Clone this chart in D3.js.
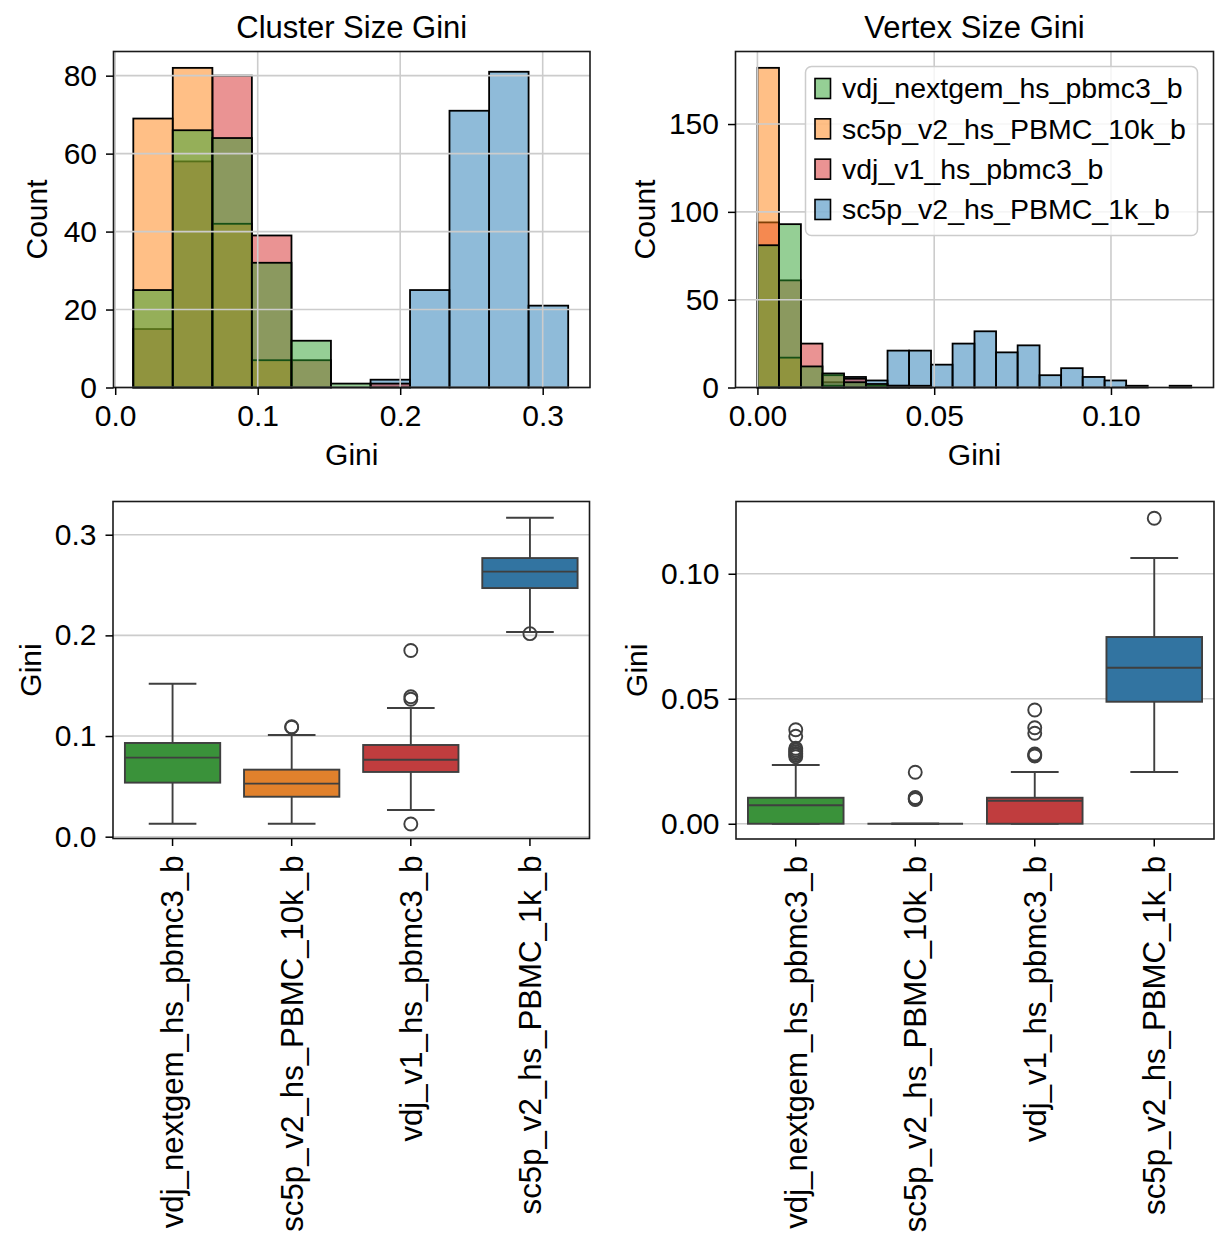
<!DOCTYPE html>
<html>
<head>
<meta charset="utf-8">
<script src="https://cdn.jsdelivr.net/npm/d3@7"></script>
<style>
  body { margin: 0; background: #fff; }
  svg { display: block; font-family: "Liberation Sans", Arial, sans-serif; }
</style>
</head>
<body>
<svg id="chart"></svg>
<script>
// samples, in hue order
const samples = ["vdj_nextgem_hs_pbmc3_b", "sc5p_v2_hs_PBMC_10k_b", "vdj_v1_hs_pbmc3_b", "sc5p_v2_hs_PBMC_1k_b"];
const histColors = ["#2ca02c", "#ff7f0e", "#d62728", "#1f77b4"];
const boxColors = ["#3a923a", "#e1812c", "#c03d3e", "#3274a1"];

// cluster size gini histogram (11 shared bins)
const clusterEdges = [0.0127, 0.0404, 0.0682, 0.0959, 0.1237, 0.1514, 0.1792, 0.2069, 0.2346, 0.2624, 0.2901, 0.3179];
const clusterNextgem = [25, 66, 64, 32, 12, 1, 0, 0, 0, 0, 0];
const cluster10k = [69, 82, 42, 7, 0, 0, 0, 0, 0, 0, 0];
const clusterV1 = [15, 58, 80, 39, 7, 0, 1, 0, 0, 0, 0];
const cluster1k = [0, 0, 0, 0, 0, 0, 2, 25, 71, 81, 21];

// vertex size gini histogram (20 shared bins)
const vertexEdges = [0, 0.0061, 0.0123, 0.0184, 0.0245, 0.0307, 0.0368, 0.0429, 0.0491, 0.0552, 0.0614,
  0.0675, 0.0736, 0.0798, 0.0859, 0.0920, 0.0982, 0.1043, 0.1104, 0.1166, 0.1227];
const vertexNextgem = [81, 93, 12, 8, 3, 2, 1, 0, 0, 0, 0, 0, 0, 0, 0, 0, 0, 0, 0, 0];
const vertex10k = [182, 17, 0, 1, 0, 0, 0, 0, 0, 0, 0, 0, 0, 0, 0, 0, 0, 0, 0, 0];
const vertexV1 = [94, 61, 25, 7, 5, 1, 1, 1, 0, 0, 0, 0, 0, 0, 0, 0, 0, 0, 0, 0];
const vertex1k = [0, 0, 0, 3, 6, 4, 21, 21, 13, 25, 32, 20, 24, 7, 11, 6, 4, 1, 0, 1];

// box plot stats, one value per sample
const clusterQ1 = [0.0537, 0.0397, 0.0643, 0.2470];
const clusterMedian = [0.0785, 0.0527, 0.0765, 0.2633];
const clusterQ3 = [0.0931, 0.0666, 0.0911, 0.2768];
const clusterLow = [0.0129, 0.0129, 0.0265, 0.2033];
const clusterHigh = [0.1520, 0.1010, 0.1278, 0.3169];
const clusterOutliers = [[], [0.1087, 0.1092], [0.1850, 0.1390, 0.1365, 0.0126], [0.2017]];

const vertexQ1 = [0, 0, 0, 0.0488];
const vertexMedian = [0.0074, 0, 0.0092, 0.0624];
const vertexQ3 = [0.0104, 0, 0.0104, 0.0747];
const vertexLow = [0, 0, 0, 0.0207];
const vertexHigh = [0.0235, 0, 0.0207, 0.1063];
const vertexOutliers = [
  [0.0376, 0.0350, 0.0302, 0.0295, 0.0288, 0.0281, 0.0275, 0.0268],
  [0.0206, 0.0105, 0.0102, 0.0099, 0.0097],
  [0.0455, 0.0384, 0.0362, 0.0279, 0.0275, 0.0271],
  [0.1222]
];

const width = 1228, height = 1245;
const tickFont = 30, catFont = 31.2, labelFont = 30, titleFont = 31, legendFont = 28.5;
const gridColor = "#cccccc", lineColor = "#3f3f3f";

const svg = d3.select("#chart").attr("width", width).attr("height", height);
svg.append("rect").attr("width", width).attr("height", height).attr("fill", "#fff");

function styleAxis(g) {
  g.select(".domain").remove();
  g.selectAll(".tick line").attr("stroke", "#000").attr("stroke-width", 1.5);
  g.selectAll(".tick text").attr("fill", "#000").style("font-size", tickFont + "px");
}

function frame(box) {
  svg.append("rect")
    .attr("x", box.left).attr("y", box.top)
    .attr("width", box.right - box.left).attr("height", box.bottom - box.top)
    .attr("fill", "none").attr("stroke", "#1a1a1a").attr("stroke-width", 1.6);
}

function histPanel(box, o) {
  const x = d3.scaleLinear(o.xDomain, [box.left, box.right]);
  const y = d3.scaleLinear(o.yDomain, [box.bottom, box.top]);
  const g = svg.append("g");

  // seaborn layers the last hue first
  d3.reverse(o.series.map((counts, i) => ({ counts, color: histColors[i] }))).forEach(s => {
    g.append("g").selectAll("rect")
      .data(s.counts.map((c, j) => ({ c, x0: o.edges[j], x1: o.edges[j + 1] })).filter(d => d.c > 0))
      .join("rect")
      .attr("x", d => x(d.x0))
      .attr("y", d => y(d.c))
      .attr("width", d => x(d.x1) - x(d.x0))
      .attr("height", d => y(0) - y(d.c))
      .attr("fill", s.color)
      .attr("fill-opacity", 0.5)
      .attr("stroke", "#000")
      .attr("stroke-width", 1.8);
  });

  // grid sits above the bars
  const grid = svg.append("g").attr("stroke", gridColor).attr("stroke-width", 1.6);
  grid.selectAll(".v").data(o.xTicks).join("line").attr("class", "v")
    .attr("x1", d => x(d)).attr("x2", d => x(d)).attr("y1", box.top).attr("y2", box.bottom);
  grid.selectAll(".h").data(o.yTicks).join("line").attr("class", "h")
    .attr("x1", box.left).attr("x2", box.right).attr("y1", d => y(d)).attr("y2", d => y(d));

  frame(box);

  svg.append("g")
    .attr("transform", `translate(0,${box.bottom})`)
    .call(d3.axisBottom(x).tickValues(o.xTicks).tickFormat(d3.format(o.xFmt)).tickSize(7.5).tickPadding(10))
    .call(styleAxis);

  svg.append("g")
    .attr("transform", `translate(${box.left},0)`)
    .call(d3.axisLeft(y).tickValues(o.yTicks).tickFormat(d3.format("d")).tickSize(7.5).tickPadding(9))
    .call(styleAxis);

  const cx = (box.left + box.right) / 2;
  svg.append("text").attr("x", cx).attr("y", 38).attr("text-anchor", "middle")
    .style("font-size", titleFont + "px").text(o.title);
  svg.append("text").attr("x", cx).attr("y", box.bottom + 77).attr("text-anchor", "middle")
    .style("font-size", labelFont + "px").text("Gini");
  svg.append("text")
    .attr("transform", `translate(${o.yLabelX},${(box.top + box.bottom) / 2}) rotate(-90)`)
    .attr("text-anchor", "middle")
    .style("font-size", labelFont + "px").text("Count");
}

function boxPanel(box, o) {
  const x = d3.scaleBand(samples, [box.left, box.right]);
  const y = d3.scaleLinear(o.yDomain, [box.bottom, box.top]);
  const bw = x.bandwidth() * 0.8, cw = x.bandwidth() * 0.4;

  svg.append("g").attr("stroke", gridColor).attr("stroke-width", 1.6)
    .selectAll("line").data(o.yTicks).join("line")
    .attr("x1", box.left).attr("x2", box.right).attr("y1", d => y(d)).attr("y2", d => y(d));

  const items = samples.map((s, i) => ({
    s, i, q1: o.q1[i], med: o.median[i], q3: o.q3[i], lo: o.low[i], hi: o.high[i], out: o.outliers[i]
  }));

  const g = svg.append("g").attr("stroke", lineColor).attr("stroke-width", 1.9);
  const b = g.selectAll("g").data(items).join("g")
    .attr("transform", d => `translate(${x(d.s) + x.bandwidth() / 2},0)`);

  b.append("line").attr("y1", d => y(d.q3)).attr("y2", d => y(d.hi));
  b.append("line").attr("y1", d => y(d.q1)).attr("y2", d => y(d.lo));
  b.append("line").attr("x1", -cw / 2).attr("x2", cw / 2).attr("y1", d => y(d.hi)).attr("y2", d => y(d.hi));
  b.append("line").attr("x1", -cw / 2).attr("x2", cw / 2).attr("y1", d => y(d.lo)).attr("y2", d => y(d.lo));
  b.append("rect")
    .attr("x", -bw / 2).attr("width", bw)
    .attr("y", d => y(d.q3)).attr("height", d => y(d.q1) - y(d.q3))
    .attr("fill", d => boxColors[d.i]);
  b.append("line").attr("x1", -bw / 2).attr("x2", bw / 2).attr("y1", d => y(d.med)).attr("y2", d => y(d.med));
  b.selectAll("circle").data(d => d.out).join("circle")
    .attr("cy", d => y(d)).attr("r", 6.5).attr("fill", "none");

  frame(box);

  svg.append("g")
    .attr("transform", `translate(0,${box.bottom})`)
    .call(d3.axisBottom(x).tickSize(7.5).tickPadding(7))
    .call(styleAxis)
    .call(a => a.selectAll(".tick text")
      .style("font-size", catFont + "px")
      .attr("transform", "rotate(-90)")
      .attr("text-anchor", "end")
      .attr("x", -17).attr("y", 0).attr("dy", "0.35em"));

  svg.append("g")
    .attr("transform", `translate(${box.left},0)`)
    .call(d3.axisLeft(y).tickValues(o.yTicks).tickFormat(d3.format(o.yFmt)).tickSize(7.5).tickPadding(9))
    .call(styleAxis);

  svg.append("text")
    .attr("transform", `translate(${o.yLabelX},${(box.top + box.bottom) / 2}) rotate(-90)`)
    .attr("text-anchor", "middle")
    .style("font-size", labelFont + "px").text("Gini");
}

histPanel({ left: 113.5, right: 590, top: 51.5, bottom: 387.5 }, {
  title: "Cluster Size Gini",
  edges: clusterEdges,
  series: [clusterNextgem, cluster10k, clusterV1, cluster1k],
  xDomain: [-0.0012, 0.3332], yDomain: [0, 86.2],
  xTicks: [0, 0.1, 0.2, 0.3], yTicks: [0, 20, 40, 60, 80], xFmt: ".1f",
  yLabelX: 47
});

histPanel({ left: 735.5, right: 1213.5, top: 51.5, bottom: 387.5 }, {
  title: "Vertex Size Gini",
  edges: vertexEdges,
  series: [vertexNextgem, vertex10k, vertexV1, vertex1k],
  xDomain: [-0.0062, 0.129], yDomain: [0, 191.3],
  xTicks: [0, 0.05, 0.1], yTicks: [0, 50, 100, 150], xFmt: ".2f",
  yLabelX: 655
});

// legend on the vertex histogram
const legend = svg.append("g");
legend.append("rect")
  .attr("x", 805.5).attr("y", 66.5).attr("width", 392).attr("height", 169).attr("rx", 6)
  .attr("fill", "#fff").attr("fill-opacity", 0.8).attr("stroke", "#cccccc").attr("stroke-width", 1.5);
const legendY = d3.scalePoint(samples, [88.5, 209.5]);
const items = legend.selectAll("g").data(samples).join("g")
  .attr("transform", d => `translate(815,${legendY(d)})`);
items.append("rect").attr("x", 0).attr("y", -10).attr("width", 15.5).attr("height", 20)
  .attr("fill", (d, i) => histColors[i]).attr("fill-opacity", 0.5)
  .attr("stroke", "#000").attr("stroke-width", 1.6);
items.append("text").attr("x", 27).attr("dy", "0.35em")
  .style("font-size", legendFont + "px").text(d => d);

boxPanel({ left: 113, right: 589.5, top: 501.5, bottom: 838.5 }, {
  yDomain: [-0.0018, 0.333], yTicks: [0, 0.1, 0.2, 0.3], yFmt: ".1f",
  q1: clusterQ1, median: clusterMedian, q3: clusterQ3, low: clusterLow, high: clusterHigh,
  outliers: clusterOutliers, yLabelX: 41
});

boxPanel({ left: 736, right: 1214, top: 501.5, bottom: 839 }, {
  yDomain: [-0.0061, 0.1289], yTicks: [0, 0.05, 0.1], yFmt: ".2f",
  q1: vertexQ1, median: vertexMedian, q3: vertexQ3, low: vertexLow, high: vertexHigh,
  outliers: vertexOutliers, yLabelX: 647
});
</script>
</body>
</html>
